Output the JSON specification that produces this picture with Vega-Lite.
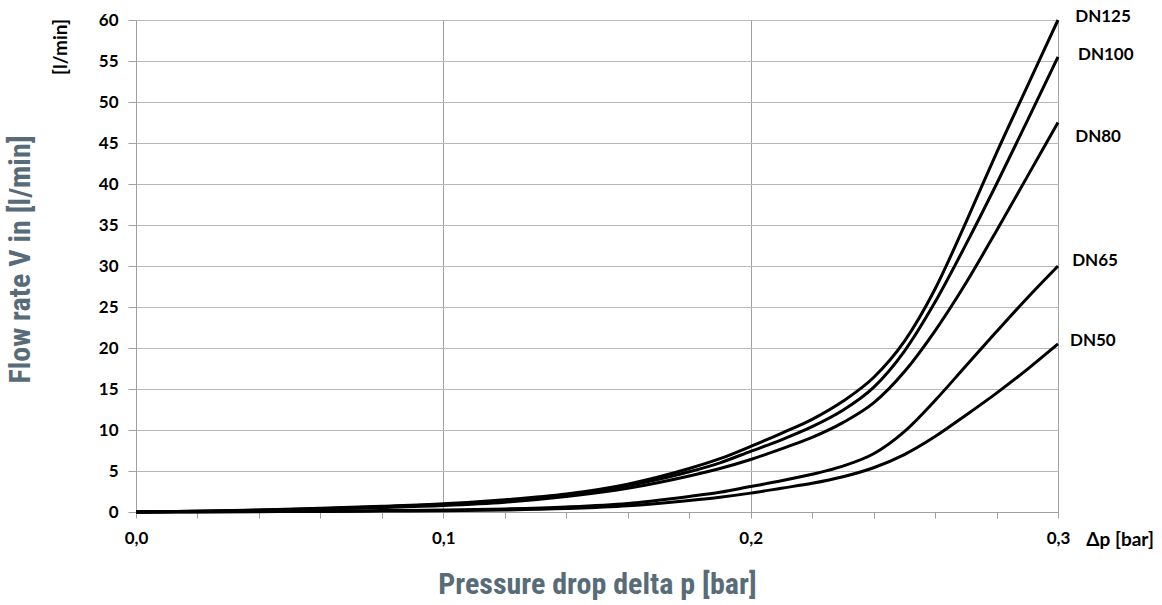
{
  "$schema": "https://vega.github.io/schema/vega-lite/v6.json",
  "autosize": "none",
  "width": 922,
  "height": 492,
  "padding": {"left": 136, "top": 20, "right": 104, "bottom": 93},
  "background": "white",
  "config": {"view": {"stroke": null}},
  "datasets": {
    "curves": [
      {"dn":"DN125","p":0,"q":0},{"dn":"DN125","p":0.02,"q":0.1},{"dn":"DN125","p":0.04,"q":0.25},{"dn":"DN125","p":0.06,"q":0.45},{"dn":"DN125","p":0.08,"q":0.7},{"dn":"DN125","p":0.1,"q":1.0},{"dn":"DN125","p":0.12,"q":1.5},{"dn":"DN125","p":0.14,"q":2.2},{"dn":"DN125","p":0.16,"q":3.4},{"dn":"DN125","p":0.18,"q":5.3},{"dn":"DN125","p":0.19,"q":6.5},{"dn":"DN125","p":0.2,"q":8.0},{"dn":"DN125","p":0.21,"q":9.6},{"dn":"DN125","p":0.22,"q":11.3},{"dn":"DN125","p":0.23,"q":13.5},{"dn":"DN125","p":0.24,"q":16.4},{"dn":"DN125","p":0.25,"q":20.8},{"dn":"DN125","p":0.26,"q":27.2},{"dn":"DN125","p":0.27,"q":35.3},{"dn":"DN125","p":0.28,"q":43.8},{"dn":"DN125","p":0.29,"q":51.9},{"dn":"DN125","p":0.3,"q":60.0},
      {"dn":"DN100","p":0,"q":0},{"dn":"DN100","p":0.02,"q":0.09},{"dn":"DN100","p":0.04,"q":0.22},{"dn":"DN100","p":0.06,"q":0.4},{"dn":"DN100","p":0.08,"q":0.63},{"dn":"DN100","p":0.1,"q":0.9},{"dn":"DN100","p":0.12,"q":1.3},{"dn":"DN100","p":0.14,"q":2.0},{"dn":"DN100","p":0.16,"q":3.2},{"dn":"DN100","p":0.18,"q":4.9},{"dn":"DN100","p":0.19,"q":6.0},{"dn":"DN100","p":0.2,"q":7.4},{"dn":"DN100","p":0.21,"q":8.8},{"dn":"DN100","p":0.22,"q":10.4},{"dn":"DN100","p":0.23,"q":12.4},{"dn":"DN100","p":0.24,"q":15.2},{"dn":"DN100","p":0.25,"q":19.6},{"dn":"DN100","p":0.26,"q":25.6},{"dn":"DN100","p":0.27,"q":32.6},{"dn":"DN100","p":0.28,"q":40.0},{"dn":"DN100","p":0.29,"q":47.7},{"dn":"DN100","p":0.3,"q":55.5},
      {"dn":"DN80","p":0,"q":0},{"dn":"DN80","p":0.02,"q":0.08},{"dn":"DN80","p":0.04,"q":0.2},{"dn":"DN80","p":0.06,"q":0.35},{"dn":"DN80","p":0.08,"q":0.55},{"dn":"DN80","p":0.1,"q":0.8},{"dn":"DN80","p":0.12,"q":1.2},{"dn":"DN80","p":0.14,"q":1.9},{"dn":"DN80","p":0.16,"q":2.9},{"dn":"DN80","p":0.18,"q":4.4},{"dn":"DN80","p":0.19,"q":5.3},{"dn":"DN80","p":0.2,"q":6.4},{"dn":"DN80","p":0.21,"q":7.7},{"dn":"DN80","p":0.22,"q":9.1},{"dn":"DN80","p":0.23,"q":10.9},{"dn":"DN80","p":0.24,"q":13.3},{"dn":"DN80","p":0.25,"q":17.1},{"dn":"DN80","p":0.26,"q":22.1},{"dn":"DN80","p":0.27,"q":27.9},{"dn":"DN80","p":0.28,"q":34.3},{"dn":"DN80","p":0.29,"q":40.9},{"dn":"DN80","p":0.3,"q":47.5},
      {"dn":"DN65","p":0,"q":0},{"dn":"DN65","p":0.02,"q":0.02},{"dn":"DN65","p":0.04,"q":0.06},{"dn":"DN65","p":0.06,"q":0.1},{"dn":"DN65","p":0.08,"q":0.17},{"dn":"DN65","p":0.1,"q":0.25},{"dn":"DN65","p":0.12,"q":0.38},{"dn":"DN65","p":0.14,"q":0.62},{"dn":"DN65","p":0.16,"q":1.05},{"dn":"DN65","p":0.18,"q":1.9},{"dn":"DN65","p":0.19,"q":2.4},{"dn":"DN65","p":0.2,"q":3.1},{"dn":"DN65","p":0.21,"q":3.8},{"dn":"DN65","p":0.22,"q":4.6},{"dn":"DN65","p":0.23,"q":5.6},{"dn":"DN65","p":0.24,"q":7.1},{"dn":"DN65","p":0.25,"q":9.8},{"dn":"DN65","p":0.26,"q":13.6},{"dn":"DN65","p":0.27,"q":17.8},{"dn":"DN65","p":0.28,"q":22.0},{"dn":"DN65","p":0.29,"q":26.1},{"dn":"DN65","p":0.3,"q":30.0},
      {"dn":"DN50","p":0,"q":0},{"dn":"DN50","p":0.02,"q":0.01},{"dn":"DN50","p":0.04,"q":0.04},{"dn":"DN50","p":0.06,"q":0.07},{"dn":"DN50","p":0.08,"q":0.11},{"dn":"DN50","p":0.1,"q":0.15},{"dn":"DN50","p":0.12,"q":0.24},{"dn":"DN50","p":0.14,"q":0.42},{"dn":"DN50","p":0.16,"q":0.75},{"dn":"DN50","p":0.18,"q":1.4},{"dn":"DN50","p":0.19,"q":1.8},{"dn":"DN50","p":0.2,"q":2.3},{"dn":"DN50","p":0.21,"q":2.9},{"dn":"DN50","p":0.22,"q":3.5},{"dn":"DN50","p":0.23,"q":4.3},{"dn":"DN50","p":0.24,"q":5.4},{"dn":"DN50","p":0.25,"q":7.0},{"dn":"DN50","p":0.26,"q":9.2},{"dn":"DN50","p":0.27,"q":11.8},{"dn":"DN50","p":0.28,"q":14.5},{"dn":"DN50","p":0.29,"q":17.4},{"dn":"DN50","p":0.3,"q":20.5}
    ],
    "labels": [
      {"dn":"DN125","lx":0.3056,"ly":60.4},
      {"dn":"DN100","lx":0.3065,"ly":55.7},
      {"dn":"DN80","lx":0.3056,"ly":45.7},
      {"dn":"DN65","lx":0.3046,"ly":30.6},
      {"dn":"DN50","lx":0.3039,"ly":20.9}
    ],
    "units": [
      {"t":"[l/min]","ux":-0.0244,"uy":56.7,"ang":270},
      {"t":"Δp [bar]","ux":0.3202,"uy":-3.41,"ang":0}
    ]
  },
  "layer": [
    {
      "data": {"name": "curves"},
      "mark": {"type": "line", "color": "black", "strokeWidth": 3, "interpolate": "monotone", "clip": false},
      "encoding": {
        "x": {
          "field": "p", "type": "quantitative",
          "scale": {"domain": [0, 0.3], "nice": false, "zero": true},
          "axis": {
            "values": [0,0.02,0.04,0.06,0.08,0.1,0.12,0.14,0.16,0.18,0.2,0.22,0.24,0.26,0.28,0.3],
            "labelExpr": "(round(datum.value*100) % 10 == 0) ? replace(format(datum.value, '.1f'), '.', ',') : ''",
            "grid": true,
            "gridColor": "#a0a0a0",
            "gridWidth": 1,
            "gridOpacity": {"condition": {"test": "round(datum.value*100) % 10 == 0", "value": 1}, "value": 0},
            "domainColor": "#a0a0a0",
            "tickColor": "#a0a0a0",
            "tickSize": 6,
            "labelFont": "Lato",
            "labelFontWeight": "bold",
            "labelFontSize": 17,
            "labelColor": "black",
            "labelPadding": 12,
            "labelFlush": false,
            "title": "Pressure drop delta p [bar]",
            "titleFont": "Roboto Condensed, DejaVu Sans Condensed, Liberation Sans Narrow, sans-serif",
            "titleFontSize": 30,
            "titleFontWeight": "bold",
            "titleColor": "#586b78",
            "titleBaseline": "alphabetic",
            "titleY": 81
          }
        },
        "y": {
          "field": "q", "type": "quantitative",
          "scale": {"domain": [0, 60], "nice": false},
          "axis": {
            "values": [0,2.5,5,7.5,10,12.5,15,17.5,20,22.5,25,27.5,30,32.5,35,37.5,40,42.5,45,47.5,50,52.5,55,57.5,60],
            "labelExpr": "(datum.value % 5 == 0) ? format(datum.value, 'd') : ''",
            "grid": true,
            "gridColor": "#b8b8b8",
            "gridWidth": 1,
            "domainColor": "#a0a0a0",
            "tickColor": "#a0a0a0",
            "tickOpacity": {"condition": {"test": "datum.value % 5 == 0", "value": 1}, "value": 0},
            "tickSize": 8,
            "labelFont": "Lato",
            "labelFontWeight": "bold",
            "labelFontSize": 17,
            "labelColor": "black",
            "labelPadding": 10,
            "labelFlush": false,
            "title": "Flow rate V in [l/min]",
            "titleFont": "Roboto Condensed, DejaVu Sans Condensed, Liberation Sans Narrow, sans-serif",
            "titleFontSize": 30,
            "titleFontWeight": "bold",
            "titleColor": "#586b78",
            "titleAngle": -90,
            "titleAlign": "center",
            "titleBaseline": "alphabetic",
            "titleX": -107,
            "titleY": 239
          }
        },
        "detail": {"field": "dn"}
      }
    },
    {
      "data": {"name": "labels"},
      "mark": {"type": "text", "align": "left", "baseline": "middle", "font": "Lato", "fontWeight": "bold", "fontSize": 17, "color": "black"},
      "encoding": {
        "x": {"field": "lx", "type": "quantitative"},
        "y": {"field": "ly", "type": "quantitative"},
        "text": {"field": "dn"}
      }
    },
    {
      "data": {"name": "units"},
      "mark": {"type": "text", "align": "center", "baseline": "middle", "font": "Lato", "fontWeight": "bold", "fontSize": 19, "color": "black"},
      "encoding": {
        "x": {"field": "ux", "type": "quantitative"},
        "y": {"field": "uy", "type": "quantitative"},
        "angle": {"field": "ang", "type": "quantitative", "scale": null},
        "text": {"field": "t"}
      }
    }
  ]
}
